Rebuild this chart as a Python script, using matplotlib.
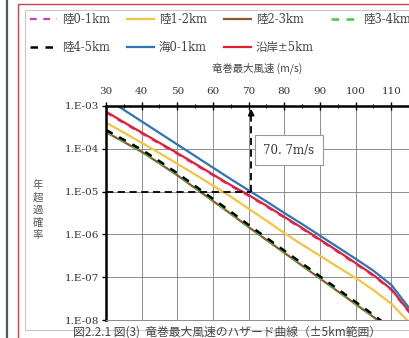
import matplotlib
matplotlib.use("Agg")
import matplotlib.pyplot as plt
import numpy as np
from matplotlib.lines import Line2D
from matplotlib.patches import Rectangle

plt.rcParams['font.family'] = ['DejaVu Serif', 'Noto Sans CJK JP']

# ---- data (wind speed m/s, log10 annual exceedance probability) ----
speed = [30, 35, 40, 45, 50, 55, 60, 65, 70, 75, 80, 85, 90, 95, 100, 105, 110, 115, 120]
sea_0_1 = [-2.82, -3.09, -3.36, -3.63, -3.90, -4.17, -4.44, -4.71, -4.97, -5.23, -5.50, -5.76,
           -6.03, -6.30, -6.57, -6.85, -7.18, -7.72, -8.25]
coast_5 = [-3.13, -3.38, -3.62, -3.86, -4.10, -4.35, -4.60, -4.85, -5.08, -5.33, -5.59, -5.85,
           -6.12, -6.39, -6.67, -6.95, -7.28, -7.80, -8.30]
land_0_1 = [-3.15, -3.40, -3.64, -3.88, -4.12, -4.37, -4.62, -4.87, -5.10, -5.35, -5.61, -5.87,
            -6.14, -6.41, -6.69, -6.97, -7.30, -7.82, -8.32]
land_1_2 = [-3.39, -3.62, -3.86, -4.10, -4.35, -4.60, -4.86, -5.12, -5.40, -5.68, -5.97, -6.24,
            -6.50, -6.76, -7.02, -7.30, -7.62, -8.05, -8.50]
land_4_5 = [-3.56, -3.79, -4.02, -4.29, -4.57, -4.87, -5.17, -5.47, -5.78, -6.08, -6.38, -6.68,
            -6.98, -7.28, -7.58, -7.88, -8.20, -8.50, -8.80]
land_3_4 = [-3.59, -3.82, -4.05, -4.32, -4.60, -4.90, -5.20, -5.50, -5.81, -6.11, -6.41, -6.71,
            -7.01, -7.31, -7.61, -7.91, -8.23, -8.53, -8.83]
land_2_3 = [-3.61, -3.84, -4.07, -4.34, -4.62, -4.92, -5.22, -5.52, -5.83, -6.13, -6.43, -6.73,
            -7.03, -7.33, -7.63, -7.93, -8.25, -8.55, -8.85]

x_ticks = [30, 40, 50, 60, 70, 80, 90, 100, 110, 120]
x_ticklabels = ["30", "40", "50", "60", "70", "80", "90", "100", "110", ""]
y_ticks = [1e-3, 1e-4, 1e-5, 1e-6, 1e-7, 1e-8]
y_ticklabels = ["1.E-03", "1.E-04", "1.E-05", "1.E-06", "1.E-07", "1.E-08"]
design_speed = 70.7
design_prob = 1e-5

W, H = 410, 338
fig = plt.figure(figsize=(W / 100, H / 100), dpi=100)
fig.patch.set_facecolor('white')

def fx(px):
    return px / W

def fy(py):
    return 1 - py / H

# decorative document frame
fig.add_artist(Line2D([fx(7), fx(7)], [0, 1], color='#4f5b4f', lw=1.6))
fig.add_artist(Rectangle((fx(18), fy(345)), 1.2, fy(4) - fy(345), transform=fig.transFigure,
                         fill=False, edgecolor='#d04040', lw=1.0))
fig.add_artist(Rectangle((fx(25), fy(330)), 1.2, fy(10) - fy(330), transform=fig.transFigure,
                         fill=False, edgecolor='#c8c8c8', lw=0.8))

ax = fig.add_axes([fx(106), fy(320), (427 - 106) / W, (320 - 106) / H])
ax.set_yscale('log')
ax.set_xlim(30, 120)
ax.set_ylim(1e-8, 1e-3)

sp = np.array(speed)
def p(v):
    return 10 ** np.array(v)

dash = (0, (3.0, 3.0))
l_land01, = ax.plot(sp, p(land_0_1), color='#cc3fcc', lw=1.6, ls=dash)
l_land23, = ax.plot(sp, p(land_2_3), color='#8a5a2e', lw=1.6)
l_land34, = ax.plot(sp, p(land_3_4), color='#44c844', lw=1.8, ls=dash)
l_land45, = ax.plot(sp, p(land_4_5), color='black', lw=1.8, ls=dash)
l_land12, = ax.plot(sp, p(land_1_2), color='#f2c440', lw=1.6)
l_coast, = ax.plot(sp, p(coast_5), color='#e0202e', lw=1.6)
l_sea, = ax.plot(sp, p(sea_0_1), color='#2e74b8', lw=1.6)

# design speed annotation
ax.plot([30, design_speed], [design_prob, design_prob], color='black', lw=1.3, ls=(0, (4, 2.5)))
ax.plot([design_speed, design_speed], [design_prob, 8e-4], color='black', lw=1.3,
        ls=(0, (4, 2.5)))
ax.annotate('', xy=(design_speed, 1e-3), xytext=(design_speed, 5e-4),
            arrowprops=dict(arrowstyle='-|>', color='black', lw=1.2, mutation_scale=9))
ax.text(81.3, 9.3e-5, "70. 7m/s", fontsize=8.5, color='#333333', ha='center', va='center',
        bbox=dict(boxstyle='square,pad=0.7', facecolor='white', edgecolor='#999999', lw=0.8))

# axes styling
ax.xaxis.tick_top()
ax.set_xticks(x_ticks)
ax.set_xticklabels(x_ticklabels)
ax.set_xticks(np.arange(35, 121, 10), minor=True)
ax.set_yticks(y_ticks)
ax.set_yticklabels(y_ticklabels)
ax.yaxis.set_minor_locator(matplotlib.ticker.NullLocator())
ax.tick_params(axis='x', which='major', direction='inout', length=6, width=1.0, pad=4,
               labelsize=7.5, labelcolor='#333333')
ax.tick_params(axis='x', which='minor', direction='inout', length=3, width=0.8)
ax.tick_params(axis='y', which='major', direction='out', length=3, width=1.0, pad=2,
               labelsize=7.5, labelcolor='#333333')
ax.grid(True, which='major', color='#8c8c8c', lw=0.7)
ax.spines['left'].set_linewidth(1.8)
ax.spines['top'].set_linewidth(1.8)
ax.spines['right'].set_visible(False)
ax.spines['bottom'].set_color('#8c8c8c')
ax.spines['bottom'].set_linewidth(0.7)
ax.set_axisbelow(True)

fig.text(fx(257), fy(68), "竜巻最大風速 (m/s)", fontsize=7.5, color='#444444',
         ha='center', va='center', family=['Noto Sans CJK JP', 'DejaVu Sans'])
fig.text(fx(38), fy(210), "年\n超\n過\n確\n率", fontsize=7.5, color='#555555', ha='center',
         va='center', linespacing=1.3, family=['Noto Sans CJK JP', 'DejaVu Sans'])

handles = [l_land01, l_land45, l_land12, l_sea, l_land23, l_coast, l_land34]
labels = ["陸0-1km", "陸4-5km", "陸1-2km", "海0-1km", "陸2-3km", "沿岸±5km", "陸3-4km"]
fig.legend(handles, labels, ncol=4, loc='upper left', bbox_to_anchor=(fx(20), fy(3)),
           frameon=False, fontsize=8.3, handlelength=2.3, handletextpad=0.45,
           columnspacing=1.5, labelspacing=1.3, labelcolor='#444444')

fig.text(fx(73), fy(326), "図2.2.1 図(3)  竜巻最大風速のハザード曲線（±5km範囲）", fontsize=8.5,
         color='#444444', ha='left', va='top', family=['Noto Sans CJK JP', 'DejaVu Sans'])

fig.savefig("out.png", dpi=100, facecolor='white')
